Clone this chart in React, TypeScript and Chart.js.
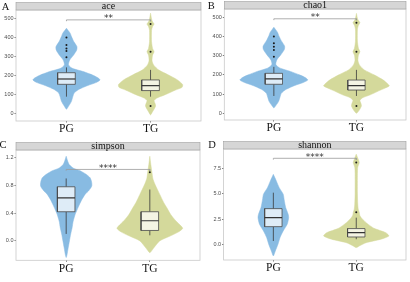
import React, { useEffect, useRef } from "react";
import { Chart, registerables } from "chart.js";
Chart.register(...registerables);

// ---------- data ----------
const groups = ["PG", "TG"];
const panelTitles = ["ace", "chao1", "simpson", "shannon"];
const panelLetters = ["A", "B", "C", "D"];
const sigLabels = ["**", "**", "****", "****"];
const sigY = [495, 492, 1.03, 8.47];

const aceTicks = [0, 100, 200, 300, 400, 500];
const aceTickLabels = ["0", "100", "200", "300", "400", "500"];
const chaoTicks = [0, 100, 200, 300, 400, 500];
const chaoTickLabels = ["0", "100", "200", "300", "400", "500"];
const simpsonTicks = [0, 0.4, 0.8, 1.2];
const simpsonTickLabels = ["0.0", "0.4", "0.8", "1.2"];
const shannonTicks = [0, 2.5, 5, 7.5];
const shannonTickLabels = ["0.0", "2.5", "5.0", "7.5"];

const aceRange = [-37, 547];
const chaoRange = [-35, 543];
const simpsonRange = [-0.28, 1.31];
const shannonRange = [-1.47, 9.38];

// violin profiles: value (y) and half-width (x units)
const acePGy = [451, 425, 407, 381, 354, 337, 310, 284, 258, 240, 223, 205, 190, 179, 165, 150, 130, 110, 90, 65, 40, 25];
const acePGw = [0, 0.044, 0.06, 0.087, 0.125, 0.122, 0.085, 0.039, 0.024, 0.071, 0.2, 0.31, 0.375, 0.399, 0.35, 0.255, 0.15, 0.092, 0.075, 0.058, 0.024, 0];
const aceTGy = [530, 500, 485, 473, 460, 440, 380, 345, 328, 310, 280, 258, 232, 205, 179, 155, 140, 126, 100, 83, 70, 55, 42, 25, 12, -5];
const aceTGw = [0, 0.012, 0.024, 0.042, 0.024, 0.012, 0.012, 0.024, 0.042, 0.024, 0.018, 0.036, 0.095, 0.214, 0.321, 0.381, 0.375, 0.298, 0.167, 0.071, 0.042, 0.054, 0.06, 0.042, 0.024, 0];

const chaoPGy = [448, 422, 404, 378, 350, 333, 305, 278, 254, 236, 218, 200, 185, 173, 160, 145, 125, 105, 85, 62, 40, 28];
const chaoPGw = [0, 0.044, 0.06, 0.09, 0.13, 0.128, 0.085, 0.036, 0.024, 0.071, 0.2, 0.31, 0.385, 0.411, 0.355, 0.255, 0.15, 0.092, 0.075, 0.058, 0.024, 0];
const chaoTGy = [520, 495, 483, 472, 458, 438, 375, 338, 321, 303, 275, 252, 226, 200, 174, 152, 142, 122, 96, 80, 66, 52, 38, 22, 10, 0];
const chaoTGw = [0, 0.012, 0.024, 0.042, 0.024, 0.012, 0.012, 0.024, 0.042, 0.024, 0.018, 0.036, 0.095, 0.214, 0.321, 0.381, 0.397, 0.298, 0.167, 0.071, 0.042, 0.054, 0.06, 0.042, 0.024, 0];

const simpsonPGy = [1.22, 1.15, 1.1, 1.05, 1.01, 0.96, 0.91, 0.85, 0.79, 0.73, 0.67, 0.6, 0.53, 0.45, 0.38, 0.28, 0.19, 0.1, 0.0, -0.1, -0.2, -0.24];
const simpsonPGw = [0, 0.018, 0.036, 0.083, 0.167, 0.238, 0.286, 0.304, 0.306, 0.274, 0.226, 0.19, 0.161, 0.131, 0.107, 0.083, 0.071, 0.054, 0.039, 0.024, 0.01, 0];
const simpsonTGy = [1.22, 1.1, 1.0, 0.9, 0.82, 0.67, 0.55, 0.48, 0.38, 0.29, 0.22, 0.18, 0.13, 0.08, 0.0, -0.1, -0.17];
const simpsonTGw = [0, 0.012, 0.024, 0.036, 0.06, 0.119, 0.167, 0.202, 0.25, 0.31, 0.369, 0.393, 0.345, 0.262, 0.119, 0.048, 0];

const shannonPGy = [6.9, 6.26, 5.6, 4.96, 4.4, 3.65, 3.0, 2.67, 2.02, 1.37, 0.71, 0.07, -0.59, -1.07];
const shannonPGw = [0, 0.036, 0.071, 0.119, 0.131, 0.149, 0.179, 0.185, 0.167, 0.119, 0.08, 0.056, 0.024, 0];
const shannonTGy = [8.87, 8.5, 8.05, 7.6, 7.0, 5.0, 4.0, 3.5, 3.2, 2.9, 2.67, 2.18, 1.63, 1.2, 0.88, 0.56, 0.22, -0.1, -0.26];
const shannonTGw = [0, 0.018, 0.036, 0.018, 0.014, 0.014, 0.018, 0.024, 0.036, 0.042, 0.06, 0.119, 0.214, 0.357, 0.393, 0.298, 0.119, 0.036, 0];

// box stats: [lower whisker, Q1, median, Q3, upper whisker]
const aceBoxPG = [91, 156, 184, 217, 245];
const aceBoxTG = [91, 123, 149, 179, 232];
const chaoBoxPG = [90, 151, 179, 208, 242];
const chaoBoxTG = [90, 121, 144, 173, 226];
const simpsonBoxPG = [0.1, 0.42, 0.62, 0.78, 0.9];
const simpsonBoxTG = [0.08, 0.15, 0.29, 0.42, 0.74];
const shannonBoxPG = [0.39, 1.79, 2.67, 3.55, 5.11];
const shannonBoxTG = [0.56, 0.78, 1.2, 1.6, 2.67];

// outliers
const aceOutPG = [402, 363, 345, 331, 298];
const aceOutTG = [473, 328, 42];
const chaoOutPG = [400, 365, 347, 330, 295];
const chaoOutTG = [472, 321, 38];
const simpsonOutPG: number[] = [];
const simpsonOutTG = [0.99];
const shannonOutPG: number[] = [];
const shannonOutTG = [8.05, 3.2];

// ---------- styles ----------
const violinColors = ["#88bbe2", "#d4d99b"];
const boxColors = ["#deecf7", "#f4f4e3"];
const BOX_HW = 0.105;

const panels = [
  { ticks: aceTicks, tickLabels: aceTickLabels, range: aceRange, vy: [acePGy, aceTGy], vw: [acePGw, aceTGw], box: [aceBoxPG, aceBoxTG], out: [aceOutPG, aceOutTG] },
  { ticks: chaoTicks, tickLabels: chaoTickLabels, range: chaoRange, vy: [chaoPGy, chaoTGy], vw: [chaoPGw, chaoTGw], box: [chaoBoxPG, chaoBoxTG], out: [chaoOutPG, chaoOutTG] },
  { ticks: simpsonTicks, tickLabels: simpsonTickLabels, range: simpsonRange, vy: [simpsonPGy, simpsonTGy], vw: [simpsonPGw, simpsonTGw], box: [simpsonBoxPG, simpsonBoxTG], out: [simpsonOutPG, simpsonOutTG] },
  { ticks: shannonTicks, tickLabels: shannonTickLabels, range: shannonRange, vy: [shannonPGy, shannonTGy], vw: [shannonPGw, shannonTGw], box: [shannonBoxPG, shannonBoxTG], out: [shannonOutPG, shannonOutTG] },
];

const layouts = [
  { x: 0, y: 0, w: 205, h: 141, left: 16, right: 201, top: 10, bottom: 121, lx: 1.7, ly: 10 },
  { x: 205, y: 0, w: 205, h: 141, left: 19.3, right: 202.7, top: 9, bottom: 120, lx: 2.7, ly: 9.3 },
  { x: 0, y: 141, w: 205, h: 141, left: 16, right: 200, top: 9, bottom: 119.3, lx: -0.5, ly: 6.7 },
  { x: 205, y: 141, w: 205, h: 141, left: 18.6, right: 203.7, top: 8, bottom: 119, lx: 3.3, ly: 6.7 },
];

function violinPoints(center: number, ys: number[], ws: number[]) {
  const right = ys.map((y, i) => ({ x: center + ws[i], y }));
  const left: { x: number; y: number }[] = [];
  for (let i = ys.length - 2; i >= 1; i--) left.push({ x: center - ws[i], y: ys[i] });
  return [...right, ...left, { x: center, y: ys[0] }];
}

function buildDatasets(p: any, idx: number) {
  const ds: any[] = [];
  const range = p.range[1] - p.range[0];
  for (let g = 0; g < 2; g++) {
    const c = g + 1;
    ds.push({
      data: violinPoints(c, p.vy[g], p.vw[g]),
      fill: "shape",
      backgroundColor: violinColors[g],
      borderColor: violinColors[g],
      borderWidth: 0.5,
      tension: 0.22,
      pointRadius: 0,
      order: 10,
    });
    const b = p.box[g];
    ds.push({
      data: [
        { x: c, y: b[0] }, { x: c, y: b[1] }, { x: c, y: null },
        { x: c, y: b[3] }, { x: c, y: b[4] },
      ],
      borderColor: "#3a3a3a",
      borderWidth: 0.8,
      pointRadius: 0,
      spanGaps: false,
      order: 8,
    });
    ds.push({
      data: [
        { x: c - BOX_HW, y: b[1] }, { x: c + BOX_HW, y: b[1] },
        { x: c + BOX_HW, y: b[3] }, { x: c - BOX_HW, y: b[3] },
        { x: c - BOX_HW, y: b[1] },
      ],
      fill: "shape",
      backgroundColor: boxColors[g],
      borderColor: "#4a4a4a",
      borderWidth: 0.8,
      pointRadius: 0,
      order: 7,
    });
    ds.push({
      data: [{ x: c - BOX_HW, y: b[2] }, { x: c + BOX_HW, y: b[2] }],
      borderColor: "#333",
      borderWidth: 1.2,
      pointRadius: 0,
      order: 6,
    });
    ds.push({
      data: p.out[g].map((v: number) => ({ x: c, y: v })),
      showLine: false,
      pointRadius: 1,
      pointBackgroundColor: "#1a1a1a",
      pointBorderWidth: 0,
      order: 2,
    });
  }
  const s = sigY[idx];
  const tip = range * 0.012;
  ds.push({
    data: [{ x: 1, y: s - tip }, { x: 1, y: s }, { x: 2, y: s }, { x: 2, y: s - tip }],
    borderColor: "#9a9a9a",
    borderWidth: 0.8,
    pointRadius: 0,
    order: 1,
  });
  return ds;
}

function Panel({ idx }: { idx: number }) {
  const ref = useRef<HTMLCanvasElement>(null);
  const L = layouts[idx];
  const p = panels[idx];
  useEffect(() => {
    if (!ref.current) return;
    const panelPlugin = {
      id: "panelDeco",
      afterDraw(chart: any) {
        const ctx = chart.ctx;
        const a = chart.chartArea;
        ctx.save();
        ctx.strokeStyle = "#c9c9c9";
        ctx.lineWidth = 0.8;
        ctx.strokeRect(a.left, a.top, a.right - a.left, a.bottom - a.top);
        const sh = 7.5;
        ctx.fillStyle = "#d6d6d6";
        ctx.fillRect(a.left, a.top - sh, a.right - a.left, sh);
        ctx.strokeStyle = "#9f9f9f";
        ctx.lineWidth = 0.6;
        ctx.strokeRect(a.left, a.top - sh, a.right - a.left, sh);
        ctx.fillStyle = "#111";
        ctx.font = "10px 'Liberation Serif', 'Times New Roman', serif";
        ctx.textAlign = "center";
        ctx.textBaseline = "middle";
        ctx.fillText(panelTitles[idx], (a.left + a.right) / 2, a.top - sh / 2 + 0.3);
        ctx.textAlign = "left";
        ctx.textBaseline = "alphabetic";
        ctx.font = "10.5px 'Liberation Serif', 'Times New Roman', serif";
        ctx.fillText(panelLetters[idx], L.lx, L.ly);
        const xs = chart.scales.x;
        const ys = chart.scales.y;
        ctx.fillStyle = "#333";
        ctx.font = "9px 'DejaVu Sans', sans-serif";
        ctx.textAlign = "center";
        ctx.fillText(sigLabels[idx], xs.getPixelForValue(1.5), ys.getPixelForValue(sigY[idx]) + 1.5);
        ctx.restore();
      },
    };
    const chart = new Chart(ref.current, {
      type: "line",
      data: { datasets: buildDatasets(p, idx) },
      options: {
        responsive: false,
        animation: false,
        devicePixelRatio: 1,
        layout: { padding: { left: 0, top: L.top, right: L.w - L.right, bottom: 0 } },
        plugins: { legend: { display: false }, tooltip: { enabled: false } },
        scales: {
          x: {
            type: "linear",
            min: 0.4,
            max: 2.6,
            afterBuildTicks: (s: any) => {
              s.ticks = [{ value: 1 }, { value: 2 }];
            },
            afterFit: (s: any) => {
              s.height = L.h - L.bottom;
            },
            ticks: {
              callback: (v: any) => groups[Math.round(Number(v)) - 1],
              font: { family: "'Liberation Serif', 'Times New Roman', serif", size: 11.5 },
              color: "#111",
              padding: 0,
              maxRotation: 0,
              autoSkip: false,
            },
            grid: { drawOnChartArea: false, drawTicks: true, tickLength: 1.5, color: "#777" },
            border: { display: false },
          },
          y: {
            type: "linear",
            min: p.range[0],
            max: p.range[1],
            afterBuildTicks: (s: any) => {
              s.ticks = p.ticks.map((v: number) => ({ value: v }));
            },
            afterFit: (s: any) => {
              s.width = L.left;
            },
            ticks: {
              callback: (_v: any, i: number) => p.tickLabels[i],
              font: { family: "'Liberation Sans', Arial, sans-serif", size: 5.5 },
              color: "#4d4d4d",
              padding: 1,
              autoSkip: false,
            },
            grid: { drawOnChartArea: false, drawTicks: true, tickLength: 1.5, color: "#777" },
            border: { display: false },
          },
        },
      } as any,
      plugins: [panelPlugin],
    });
    return () => chart.destroy();
  }, [idx]);
  return (
    <canvas
      ref={ref}
      width={L.w}
      height={L.h}
      style={{ position: "absolute", left: L.x, top: L.y, width: L.w, height: L.h }}
    />
  );
}

export default function App() {
  return (
    <div style={{ position: "absolute", left: 0, top: 0, width: 410, height: 282, background: "#fff" }}>
      {[0, 1, 2, 3].map((i) => (
        <Panel key={i} idx={i} />
      ))}
    </div>
  );
}
